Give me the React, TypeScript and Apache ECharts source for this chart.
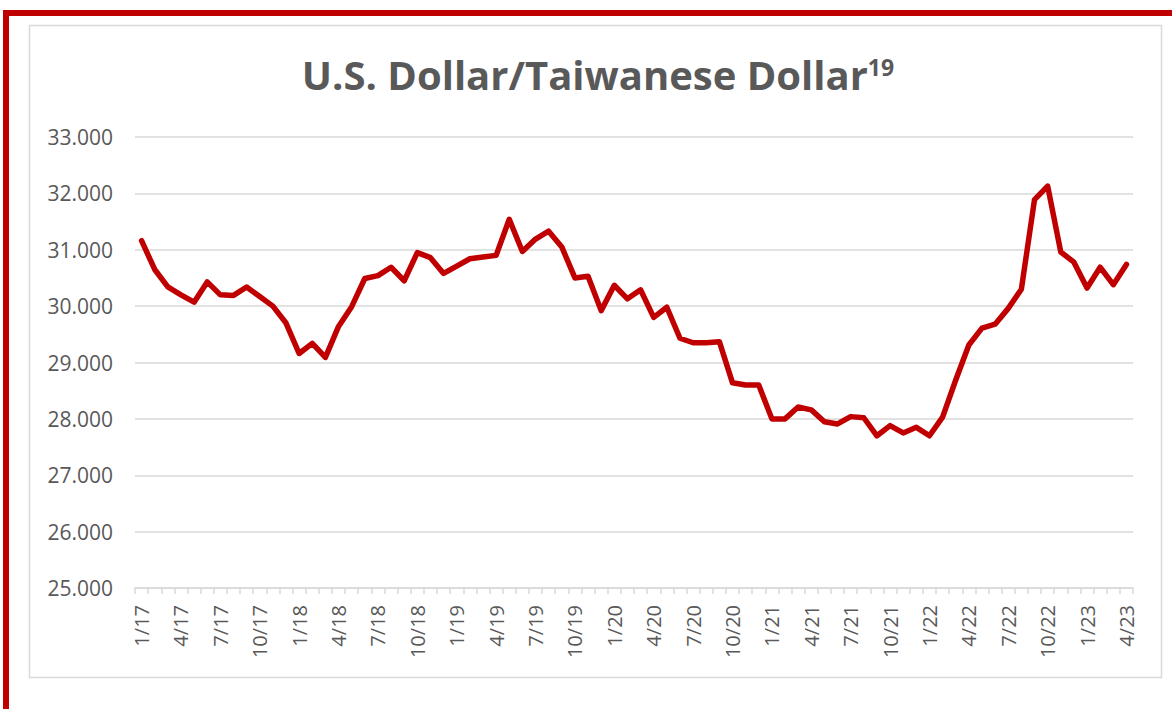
import React, { useEffect, useRef } from "react";
import * as echarts from "echarts";

const TITLE_MAIN = "U.S. Dollar/Taiwanese Dollar";
const TITLE_SUP = "19";

const months: string[] = [
  "1/17", "2/17", "3/17", "4/17", "5/17", "6/17", "7/17", "8/17", "9/17", "10/17", "11/17", "12/17",
  "1/18", "2/18", "3/18", "4/18", "5/18", "6/18", "7/18", "8/18", "9/18", "10/18", "11/18", "12/18",
  "1/19", "2/19", "3/19", "4/19", "5/19", "6/19", "7/19", "8/19", "9/19", "10/19", "11/19", "12/19",
  "1/20", "2/20", "3/20", "4/20", "5/20", "6/20", "7/20", "8/20", "9/20", "10/20", "11/20", "12/20",
  "1/21", "2/21", "3/21", "4/21", "5/21", "6/21", "7/21", "8/21", "9/21", "10/21", "11/21", "12/21",
  "1/22", "2/22", "3/22", "4/22", "5/22", "6/22", "7/22", "8/22", "9/22", "10/22", "11/22", "12/22",
  "1/23", "2/23", "3/23", "4/23",
];

const rates: number[] = [
  31.16, 30.65, 30.34, 30.2, 30.07, 30.43, 30.2, 30.19, 30.34, 30.17, 30.0, 29.7,
  29.16, 29.34, 29.09, 29.64, 29.99, 30.49, 30.54, 30.69, 30.45, 30.95, 30.86, 30.58,
  30.71, 30.84, 30.87, 30.9, 31.54, 30.97, 31.19, 31.33, 31.05, 30.5, 30.53, 29.92,
  30.37, 30.13, 30.29, 29.8, 29.98, 29.43, 29.35, 29.35, 29.37, 28.64, 28.6, 28.6,
  28.0, 28.0, 28.21, 28.16, 27.95, 27.91, 28.04, 28.02, 27.7, 27.88, 27.75, 27.85,
  27.7, 28.03, 28.69, 29.31, 29.61, 29.68, 29.96, 30.3, 31.89, 32.13, 30.96, 30.78,
  30.32, 30.69, 30.38, 30.74,
];

const Y_MIN = 25;
const Y_MAX = 33;
const Y_STEP = 1;

export default function App() {
  const ref = useRef<HTMLDivElement>(null);

  useEffect(() => {
    if (!ref.current) return;
    const chart = echarts.init(ref.current, null, { renderer: "svg" });
    const grey = "#595959";
    const gridGrey = "#d9d9d9";
    chart.setOption({
      animation: false,
      backgroundColor: "#ffffff",
      title: {
        text: `{a|${TITLE_MAIN}}{b|${TITLE_SUP}}`,
        left: 593,
        top: 49,
        textAlign: "center",
        textStyle: {
          rich: {
            a: {
              fontFamily: "'Open Sans', sans-serif",
              fontWeight: "bold",
              fontSize: 40,
              color: grey,
            },
            b: {
              fontFamily: "'Open Sans', sans-serif",
              fontWeight: "bold",
              fontSize: 23,
              color: grey,
              padding: [0, 0, 15, 0],
            },
          },
        },
      },
      graphic: [
        {
          type: "rect",
          shape: { x: 29.5, y: 25.5, width: 1132, height: 652 },
          style: { fill: "none", stroke: gridGrey, lineWidth: 1.5 },
          silent: true,
          z: -1,
        },
        {
          type: "rect",
          shape: { x: 3, y: 10, width: 1169, height: 6 },
          style: { fill: "#C00000" },
          silent: true,
        },
        {
          type: "rect",
          shape: { x: 3, y: 10, width: 6, height: 699 },
          style: { fill: "#C00000" },
          silent: true,
        },
      ],
      grid: {
        left: 135,
        right: 39,
        top: 137,
        bottom: 121,
        containLabel: false,
      },
      xAxis: {
        type: "category",
        data: months,
        boundaryGap: true,
        axisLine: { show: true, lineStyle: { color: gridGrey, width: 1.5 } },
        axisTick: {
          show: true,
          interval: 0,
          length: 6,
          lineStyle: { color: gridGrey, width: 1.5 },
        },
        axisLabel: {
          interval: 2,
          rotate: 90,
          margin: 17,
          color: grey,
          fontFamily: "'Open Sans', sans-serif",
          fontSize: 20,
        },
        splitLine: { show: false },
      },
      yAxis: {
        type: "value",
        min: Y_MIN,
        max: Y_MAX,
        interval: Y_STEP,
        axisLine: { show: false },
        axisTick: { show: false },
        axisLabel: {
          margin: 22,
          color: grey,
          fontFamily: "'Open Sans', sans-serif",
          fontSize: 21,
          formatter: (v: number) => v.toFixed(3),
        },
        splitLine: { lineStyle: { color: gridGrey, width: 1.5 } },
      },
      series: [
        {
          type: "line",
          data: rates,
          symbol: "none",
          smooth: false,
          lineStyle: { color: "#C00000", width: 5.5, join: "round", cap: "round" },
        },
      ],
    });
    return () => chart.dispose();
  }, []);

  return (
    <div
      ref={ref}
      style={{ position: "fixed", left: 0, top: 0, width: 1172, height: 709, background: "#fff" }}
    />
  );
}
